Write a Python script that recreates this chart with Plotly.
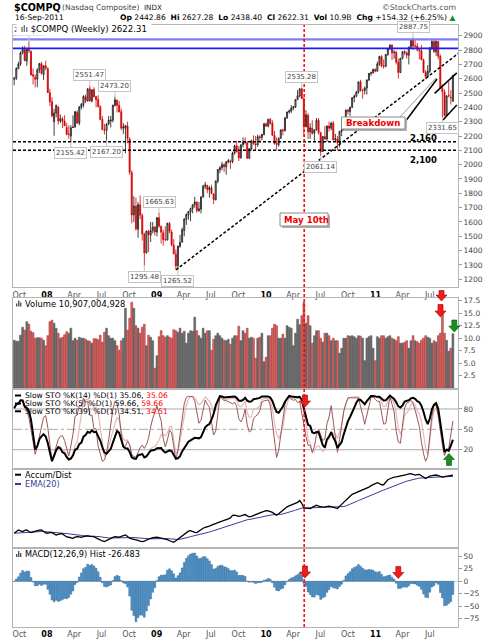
import numpy as np
import pandas as pd
import plotly.graph_objects as go

W, H = 496, 640
FONT = "DejaVu Sans"

# weekly $COMPQ bars, 14-Sep-2007 .. 16-Sep-2011
opens = [
    2596, 2604, 2672, 2702, 2781, 2806, 2724, 2805, 2790, 2628,
    2610, 2597, 2662, 2705, 2630, 2690, 2670, 2503, 2440, 2300,
    2360, 2400, 2305, 2320, 2305, 2260, 2213, 2200, 2260, 2262,
    2365, 2290, 2400, 2420, 2475, 2447, 2530, 2445, 2525, 2475,
    2455, 2405, 2316, 2245, 2240, 2285, 2305, 2310, 2414, 2450,
    2415, 2370, 2255, 2255, 2270, 2180, 1945, 1650, 1710, 1550,
    1720, 1645, 1515, 1385, 1535, 1508, 1540, 1565, 1530, 1630,
    1570, 1525, 1478, 1475, 1590, 1530, 1440, 1375, 1295, 1430,
    1460, 1540, 1620, 1650, 1670, 1695, 1720, 1738, 1680, 1690,
    1775, 1850, 1855, 1825, 1840, 1795, 1755, 1885, 1965, 1980,
    2000, 1985, 2020, 2025, 2020, 2080, 2130, 2090, 2050, 2140,
    2155, 2155, 2045, 2110, 2165, 2145, 2140, 2195, 2190, 2210,
    2285, 2270, 2315, 2290, 2205, 2150, 2140, 2185, 2243, 2238,
    2327, 2368, 2374, 2395, 2402, 2454, 2481, 2530, 2460, 2265,
    2345, 2230, 2255, 2220, 2243, 2310, 2222, 2092, 2196, 2180,
    2270, 2255, 2290, 2173, 2180, 2153, 2233, 2242, 2315, 2381,
    2371, 2401, 2468, 2480, 2507, 2578, 2518, 2518, 2535, 2591,
    2637, 2642, 2665, 2653, 2703, 2755, 2690, 2687, 2769, 2809,
    2834, 2781, 2784, 2715, 2643, 2743, 2789, 2780, 2764, 2820,
    2873, 2828, 2828, 2803, 2796, 2732, 2643, 2616, 2652, 2816,
    2859, 2789, 2859, 2756, 2532, 2508, 2342, 2482, 2470, 2442.86,
]
highs = [
    2613, 2680, 2718, 2790, 2826, 2830, 2811, 2861.51, 2799, 2672,
    2630, 2674, 2710, 2718, 2692, 2725, 2680, 2530, 2470, 2390,
    2420, 2410, 2350, 2335, 2345, 2290, 2275, 2275, 2345, 2375,
    2380, 2410, 2430, 2485, 2490, 2535, 2551.47, 2525, 2540, 2480,
    2485, 2415, 2340, 2285, 2290, 2340, 2340, 2420, 2473.20, 2455,
    2445, 2390, 2290, 2275, 2300, 2190, 1960, 1780, 1770, 1740,
    1785, 1660, 1525, 1540, 1545, 1600, 1600, 1570, 1635, 1665.63,
    1575, 1545, 1570, 1595, 1600, 1545, 1480, 1410, 1435, 1510,
    1560, 1625, 1660, 1675, 1700, 1725, 1775, 1745, 1740, 1780,
    1860, 1880, 1860, 1850, 1860, 1800, 1890, 1970, 1990, 2020,
    2010, 2025, 2040, 2035, 2090, 2140, 2167, 2130, 2140, 2190,
    2190, 2165, 2115, 2175, 2205, 2200, 2210, 2205, 2215, 2290,
    2295, 2320, 2327, 2310, 2235, 2190, 2190, 2245, 2250, 2330,
    2370, 2385, 2415, 2410, 2456, 2520, 2532, 2535.28, 2470, 2380,
    2360, 2290, 2310, 2245, 2325, 2325, 2230, 2200, 2270, 2275,
    2300, 2300, 2305, 2215, 2200, 2235, 2250, 2325, 2385, 2390,
    2405, 2470, 2490, 2515, 2580, 2592, 2530, 2545, 2595, 2640,
    2650, 2670, 2672, 2720, 2760, 2765, 2735, 2770, 2810, 2840,
    2840, 2800, 2795, 2740, 2745, 2790, 2800, 2790, 2825, 2875,
    2887.75, 2870, 2850, 2810, 2835, 2740, 2660, 2695, 2820, 2875,
    2870, 2870, 2860, 2770, 2560, 2525, 2485, 2580, 2520, 2627.28,
]
lows = [
    2555, 2590, 2665, 2690, 2770, 2725, 2690, 2780, 2620, 2560,
    2540, 2540, 2640, 2630, 2590, 2660, 2500, 2410, 2330, 2202,
    2330, 2280, 2290, 2255, 2270, 2205, 2180, 2155.42, 2255, 2260,
    2285, 2275, 2385, 2400, 2430, 2440, 2440, 2435, 2470, 2400,
    2400, 2310, 2240, 2210, 2167.20, 2275, 2260, 2295, 2405, 2365,
    2365, 2240, 2215, 2080, 2150, 1930, 1590, 1600, 1540, 1490,
    1620, 1470, 1295.48, 1380, 1390, 1460, 1520, 1505, 1500, 1560,
    1450, 1435, 1465, 1470, 1520, 1430, 1375, 1270, 1265.52, 1420,
    1455, 1500, 1580, 1615, 1605, 1660, 1700, 1665, 1670, 1660,
    1770, 1830, 1800, 1770, 1795, 1725, 1750, 1870, 1940, 1960,
    1950, 1930, 2010, 1970, 2010, 2070, 2085, 2025, 2040, 2120,
    2140, 2040, 2040, 2100, 2140, 2100, 2125, 2165, 2170, 2205,
    2265, 2260, 2280, 2200, 2140, 2100, 2125, 2180, 2205, 2230,
    2320, 2355, 2360, 2380, 2395, 2450, 2470, 2460, 2195, 2260,
    2180, 2180, 2210, 2160, 2240, 2210, 2061.14, 2090, 2175, 2160,
    2230, 2240, 2170, 2165, 2100, 2120, 2200, 2240, 2300, 2350,
    2340, 2395, 2435, 2470, 2495, 2510, 2460, 2490, 2490, 2585,
    2620, 2635, 2645, 2650, 2690, 2680, 2670, 2680, 2760, 2800,
    2730, 2740, 2700, 2600, 2640, 2735, 2765, 2740, 2700, 2815,
    2800, 2810, 2790, 2735, 2730, 2640, 2600, 2610, 2640, 2800,
    2780, 2760, 2735, 2530, 2331.65, 2336, 2340, 2470, 2420, 2438.40,
]
closes = [
    2602, 2671, 2701, 2780, 2806, 2726, 2804, 2795, 2627, 2618,
    2596, 2661, 2706, 2636, 2691, 2674, 2504, 2439, 2340, 2360,
    2413, 2304, 2321, 2303, 2271, 2212, 2212, 2258, 2261, 2370,
    2290, 2402, 2422, 2476, 2446, 2528, 2444, 2522, 2474, 2454,
    2406, 2316, 2245, 2239, 2282, 2310, 2310, 2414, 2452, 2414,
    2368, 2255, 2261, 2273, 2183, 1947, 1649, 1711, 1552, 1720,
    1647, 1516, 1384, 1536, 1509, 1540, 1564, 1530, 1628, 1571,
    1529, 1477, 1476, 1591, 1534, 1441, 1377, 1293, 1431, 1457,
    1545, 1621, 1652, 1673, 1694, 1719, 1739, 1680, 1692, 1774,
    1849, 1858, 1827, 1838, 1797, 1756, 1886, 1965, 1979, 2000,
    1985, 2020, 2028, 2018, 2080, 2132, 2090, 2048, 2139, 2156,
    2154, 2045, 2112, 2167, 2146, 2138, 2195, 2190, 2211, 2285,
    2269, 2317, 2287, 2205, 2147, 2141, 2183, 2243, 2238, 2327,
    2368, 2374, 2395, 2402, 2454, 2481, 2530, 2461, 2265, 2347,
    2229, 2257, 2219, 2243, 2309, 2223, 2091, 2196, 2179, 2269,
    2255, 2289, 2173, 2180, 2153, 2233, 2242, 2315, 2381, 2371,
    2401, 2468, 2479, 2507, 2578, 2518, 2518, 2535, 2591, 2637,
    2642, 2665, 2653, 2703, 2755, 2689, 2687, 2769, 2809, 2834,
    2781, 2784, 2715, 2643, 2743, 2789, 2780, 2764, 2820, 2873,
    2828, 2828, 2803, 2796, 2732, 2643, 2616, 2652, 2816, 2859,
    2789, 2859, 2756, 2532, 2508, 2342, 2480, 2480, 2467.99, 2622.31,
]
# weekly volume, billions of shares
volumes = [
    9.6, 9.4, 9.4, 10.6, 12.2, 11.6, 13.3, 12.8, 11.4, 11.1,
    10.0, 10.1, 10.1, 10.0, 9.6, 8.5, 10.5, 13.3, 13.6, 13.0,
    12.0, 11.0, 10.0, 10.2, 10.7, 11.3, 11.0, 12.0, 9.5, 10.0,
    9.6, 10.2, 10.0, 10.0, 9.8, 9.5, 9.4, 9.0, 9.9, 9.9,
    9.7, 10.6, 9.2, 11.2, 12.0, 10.5, 10.0, 10.0, 9.5, 8.5,
    7.6, 9.5, 10.0, 16.0, 11.6, 14.0, 17.2, 16.0, 12.5, 12.0,
    11.0, 12.2, 12.8, 8.5, 10.6, 10.2, 9.5, 4.0, 6.5, 10.3,
    11.5, 10.5, 10.2, 10.5, 10.2, 10.0, 11.7, 11.5, 11.2, 12.0,
    11.0, 11.4, 9.0, 11.0, 11.5, 11.4, 14.2, 11.5, 10.5, 10.0,
    12.0, 11.0, 11.5, 11.5, 7.6, 9.8, 10.5, 11.0, 10.5, 10.0,
    9.6, 9.5, 9.8, 8.8, 10.0, 10.5, 10.5, 12.4, 9.5, 11.5,
    11.0, 12.0, 10.0, 10.2, 10.0, 6.0, 10.0, 10.2, 11.0, 5.3,
    6.2, 10.5, 10.5, 12.0, 12.8, 12.5, 10.0, 10.0, 10.8, 10.0,
    12.5, 12.2, 12.0, 8.5, 11.0, 13.8, 12.7, 14.5, 17.2, 13.0,
    14.5, 12.5, 9.0, 10.5, 11.5, 11.5, 10.0, 9.2, 11.0, 11.0,
    10.5, 9.5, 10.0, 9.5, 9.5, 7.0, 8.0, 10.0, 10.0, 10.5,
    10.4, 10.5, 10.3, 10.0, 10.5, 10.4, 10.0, 5.5, 10.0, 10.3,
    10.5, 8.0, 5.5, 10.3, 10.0, 10.5, 10.5, 10.0, 10.3, 10.5,
    10.0, 9.8, 9.5, 10.3, 9.0, 9.0, 9.2, 9.5, 8.0, 9.5,
    10.5, 9.5, 9.3, 9.0, 9.6, 10.0, 10.5, 10.2, 10.0, 9.0,
    9.5, 9.2, 10.5, 11.0, 15.3, 11.0, 9.6, 7.4, 8.0, 10.907004928,
]
# accumulation/distribution line (arbitrary units)
accum_dist = [
    6.7, 8.5, 10.0, 9.0, 8.3, 9.5, 10.0, 8.5, 7.3, 8.0,
    9.0, 9.3, 9.8, 10.0, 8.5, 7.0, 6.7, 7.5, 7.3, 6.2,
    5.0, 5.5, 6.3, 6.0, 4.5, 3.0, 2.7, 2.0, 1.7, 2.8,
    3.3, 3.0, 2.7, 3.3, 3.8, 4.0, 3.5, 3.6, 3.3, 2.0,
    0.8, 0.0, -1.0, -1.7, -0.5, 0.5, 1.5, 2.5, 3.3, 3.0,
    2.7, 3.5, 4.5, 5.0, 3.5, 1.8, 1.2, 0.8, 0.2, -0.5,
    -1.2, -1.7, -1.2, 0.0, 1.0, 1.7, 2.2, 2.5, 2.7, 2.3,
    1.8, 1.7, 1.0, 0.3, -0.8, -1.8, -2.3, -0.8, 0.7, 2.5,
    4.5, 6.0, 7.2, 8.8, 9.3, 8.3, 7.6, 7.3, 9.0, 10.8,
    11.7, 12.5, 13.0, 13.8, 14.8, 15.8, 16.8, 17.5, 18.0, 18.7,
    19.3, 20.0, 21.0, 22.0, 24.5, 24.8, 24.0, 23.5, 24.0, 24.8,
    25.3, 24.0, 23.0, 23.5, 24.5, 25.3, 26.2, 27.0, 27.8, 28.5,
    29.3, 29.0, 28.3, 27.5, 26.0, 24.7, 26.2, 28.0, 29.5, 31.0,
    33.0, 34.0, 34.8, 35.5, 36.3, 37.5, 39.3, 36.5, 32.0, 31.8,
    31.5, 31.3, 32.5, 33.8, 34.7, 33.8, 33.0, 32.7, 33.0, 33.5,
    33.7, 33.2, 32.5, 31.8, 31.3, 33.5, 35.3, 37.5, 39.5, 41.5,
    43.5, 45.5, 46.3, 47.2, 48.2, 48.7, 49.5, 50.5, 51.3, 52.7,
    54.2, 55.3, 56.0, 57.0, 56.2, 55.0, 55.0, 57.5, 60.0, 61.0,
    62.0, 62.5, 62.8, 63.2, 63.5, 63.8, 64.5, 65.2, 65.8, 66.0,
    65.3, 64.7, 65.0, 65.3, 64.0, 62.5, 61.3, 62.5, 63.7, 64.0,
    64.3, 64.7, 64.0, 63.0, 62.7, 63.2, 63.7, 64.0, 64.2, 64.7,
]

tick_dates = ["2007-10-01", "2008-01-01", "2008-04-01", "2008-07-01", "2008-10-01",
              "2009-01-01", "2009-04-01", "2009-07-01", "2009-10-01", "2010-01-01",
              "2010-04-01", "2010-07-01", "2010-10-01", "2011-01-01", "2011-04-01",
              "2011-07-01"]
tick_text = ["Oct", "08", "Apr", "Jul", "Oct", "09", "Apr", "Jul", "Oct", "10",
             "Apr", "Jul", "Oct", "11", "Apr", "Jul"]
peak_labels = [2861.51, 2551.47, 2473.20, 1665.63, 2535.28, 2887.75]
trough_labels = [2155.42, 2167.20, 1295.48, 1265.52, 2061.14, 2331.65]
resistance = [2875, 2812]
support = [2160, 2100]

dates = pd.date_range("2007-09-14", periods=len(closes), freq="W-FRI")
df = pd.DataFrame({"open": opens, "high": highs, "low": lows, "close": closes,
                   "vol": volumes, "ad": accum_dist}, index=dates)


def slow_k(n):
    hh = df["high"].rolling(n, min_periods=1).max()
    ll = df["low"].rolling(n, min_periods=1).min()
    fast = (df["close"] - ll) / (hh - ll) * 100
    return fast.rolling(3, min_periods=1).mean()


macd = df["close"].ewm(span=12, adjust=False).mean() - df["close"].ewm(span=26, adjust=False).mean()
hist = macd - macd.ewm(span=9, adjust=False).mean()
ad_ema = df["ad"].ewm(span=20, adjust=False).mean()
prev = df["close"].shift(1).fillna(df["open"])
up = df["close"] >= prev


def px(x):
    return x / W


def py(y):
    return 1 - y / H


XDOM = [px(13), px(458)]
XRANGE = ["2007-09-10", "2011-10-03"]
ttext = [("<b style='color:#000'>%s</b>" % t if t.isdigit() else t) for t in tick_text]

fig = go.Figure()
fig.add_trace(go.Candlestick(
    x=dates, open=df["open"], high=df["high"], low=df["low"], close=df["close"],
    xaxis="x", yaxis="y", whiskerwidth=0,
    increasing=dict(line=dict(color="#111111", width=0.8), fillcolor="#bdbdbd"),
    decreasing=dict(line=dict(color="#d40000", width=0.8), fillcolor="#d40000")))
fig.add_trace(go.Bar(
    x=dates, y=df["vol"], xaxis="x2", yaxis="y2",
    marker=dict(color=np.where(up, "#6e6e6e", "#cd6a6a"),
                line=dict(color=np.where(up, "#4a4a4a", "#b21e1e"), width=0.5))))
fig.add_trace(go.Scatter(x=dates, y=slow_k(14), xaxis="x3", yaxis="y3", mode="lines",
                         line=dict(color="#e3b9b9", width=1.2)))
fig.add_trace(go.Scatter(x=dates, y=slow_k(5), xaxis="x3", yaxis="y3", mode="lines",
                         line=dict(color="#9c5757", width=1)))
fig.add_trace(go.Scatter(x=dates, y=slow_k(39), xaxis="x3", yaxis="y3", mode="lines",
                         line=dict(color="#000000", width=2)))
fig.add_trace(go.Scatter(x=dates, y=ad_ema, xaxis="x4", yaxis="y4", mode="lines",
                         line=dict(color="#3a3a9a", width=1)))
fig.add_trace(go.Scatter(x=dates, y=df["ad"], xaxis="x4", yaxis="y4", mode="lines",
                         line=dict(color="#000000", width=1.3)))
fig.add_trace(go.Bar(x=dates, y=hist, xaxis="x5", yaxis="y5",
                     marker=dict(color="#4b93cc", line=dict(color="#2a5d8a", width=0.4))))

frame = dict(showline=True, mirror=True, linecolor="#b4b4b4", linewidth=1,
             showgrid=False, zeroline=False)
xcommon = dict(frame, domain=XDOM, range=XRANGE, tickvals=tick_dates, ticktext=ttext,
               tickfont=dict(family=FONT, size=8, color="#555"), ticks="")
ycommon = dict(frame, side="right", ticks="outside", ticklen=3, tickcolor="#999",
               tickfont=dict(family=FONT, size=7.5, color="#444"))

fig.update_layout(
    width=W, height=H, margin=dict(l=0, r=0, t=0, b=0),
    paper_bgcolor="white", plot_bgcolor="white", showlegend=False, bargap=0.12,
    xaxis=dict(xcommon, anchor="y", rangeslider=dict(visible=False)),
    xaxis2=dict(xcommon, anchor="y2", matches="x", showticklabels=False),
    xaxis3=dict(xcommon, anchor="y3", matches="x", showticklabels=False),
    xaxis4=dict(xcommon, anchor="y4", matches="x", showticklabels=False),
    xaxis5=dict(xcommon, anchor="y5", matches="x"),
    yaxis=dict(ycommon, domain=[py(287), py(25)], range=[1146, 2975],
               tickvals=list(range(1200, 3000, 100))),
    yaxis2=dict(ycommon, domain=[py(389), py(297.5)], range=[-0.16, 18.14],
                tickvals=[2.5, 5, 7.5, 10, 12.5, 15, 17.5], tickformat=".1f", ticksuffix="B"),
    yaxis3=dict(ycommon, domain=[py(469), py(389)], range=[-8.4, 109.4], tickvals=[20, 50, 80]),
    yaxis4=dict(ycommon, domain=[py(548.3), py(469)], range=[-8.3, 70.7], showticklabels=False,
                ticks=""),
    yaxis5=dict(ycommon, domain=[py(626.7), py(548.3)], range=[-91, 66],
                tickvals=[-75, -50, -25, 0, 25, 50], zeroline=True, zerolinecolor="#cfcfcf",
                zerolinewidth=1),
)

shapes = []
for lvl, col, wid in zip(resistance, ["#7d7df5", "#1a1aff"], [2.2, 1.6]):
    shapes.append(dict(type="line", xref="paper", yref="y", x0=XDOM[0], x1=XDOM[1],
                       y0=lvl, y1=lvl, line=dict(color=col, width=wid)))
for lvl in support:
    shapes.append(dict(type="line", xref="paper", yref="y", x0=XDOM[0], x1=XDOM[1],
                       y0=lvl, y1=lvl, line=dict(color="#000", width=1.5, dash="3px,2px")))
# trend line off the 2009 low and the 2011 channel
shapes.append(dict(type="line", xref="x", yref="y", x0="2009-03-06", y0=1265, x1="2011-10-03",
                   y1=2775, line=dict(color="#000", width=1.5, dash="3px,2px")))
shapes.append(dict(type="line", xref="x", yref="y", x0="2011-07-17", y0=2498, x1="2011-09-29",
                   y1=2641, line=dict(color="#000", width=1.5)))
shapes.append(dict(type="line", xref="x", yref="y", x0="2011-08-14", y0=2312, x1="2011-09-29",
                   y1=2417, line=dict(color="#000", width=1.5)))
# May 10th marker through all panels
shapes.append(dict(type="line", xref="x", yref="paper", x0="2010-05-08", x1="2010-05-08",
                   y0=py(627), y1=py(25), line=dict(color="#ff0000", width=1.5, dash="3px,2px")))
# STO reference lines
for lvl, dash in [(80, "solid"), (20, "solid"), (50, "dashdot")]:
    shapes.append(dict(type="line", xref="paper", yref="y3", x0=XDOM[0], x1=XDOM[1], y0=lvl,
                       y1=lvl, line=dict(color="#aaaaaa", width=1, dash=dash), layer="below"))

# breakdown callout tail
shapes.append(dict(type="line", xref="paper", yref="paper", x0=px(400), y0=py(117),
                   x1=px(436), y1=py(78), line=dict(color="#999", width=1)))
shapes.append(dict(type="line", xref="paper", yref="paper", x0=px(405), y0=py(122),
                   x1=px(437), y1=py(79), line=dict(color="#000", width=1.5)))
# callout boxes with a drop shadow
for x0, y0, x1, y1 in [(341.5, 117, 405, 129), (280, 213, 328, 226)]:
    shapes.append(dict(type="rect", xref="paper", yref="paper", x0=px(x0 + 2), y0=py(y0 + 2),
                       x1=px(x1 + 2), y1=py(y1 + 2), fillcolor="#b0b0b0", line=dict(width=0)))
    shapes.append(dict(type="rect", xref="paper", yref="paper", x0=px(x0), y0=py(y0),
                       x1=px(x1), y1=py(y1), fillcolor="white", line=dict(color="#8a8a8a", width=1)))


def block_arrow(cx, top, bot, color, edge, pointing_up=False):
    hw, sw, hh = 5.5, 2.5, 6
    if pointing_up:
        pts = [(cx, top), (cx + hw, top + hh), (cx + sw, top + hh), (cx + sw, bot),
               (cx - sw, bot), (cx - sw, top + hh), (cx - hw, top + hh)]
    else:
        pts = [(cx - sw, top), (cx + sw, top), (cx + sw, bot - hh), (cx + hw, bot - hh),
               (cx, bot), (cx - hw, bot - hh), (cx - sw, bot - hh)]
    path = "M " + " L ".join("%.5f,%.5f" % (px(a), py(b)) for a, b in pts) + " Z"
    return dict(type="path", xref="paper", yref="paper", path=path, fillcolor=color,
                line=dict(color=edge, width=0.6))


RED, RED_E, GRN, GRN_E = "#ee1c1c", "#a00000", "#1c8c1c", "#0a5a0a"
shapes += [
    block_arrow(441.5, 290.5, 301, RED, RED_E),
    block_arrow(440.5, 304.5, 317, RED, RED_E),
    block_arrow(454.3, 320, 332, GRN, GRN_E),
    block_arrow(305, 395, 407, RED, RED_E),
    block_arrow(449, 453.5, 465.5, GRN, GRN_E, pointing_up=True),
    block_arrow(305, 566, 578, RED, RED_E),
    block_arrow(398.3, 566.5, 578.5, RED, RED_E),
]


def icon(x, y):
    out = []
    for dx, h in [(0, 3), (2, 6), (4, 4)]:
        out.append(dict(type="rect", xref="paper", yref="paper", x0=px(x + dx), x1=px(x + dx + 1.4),
                        y0=py(y + 3), y1=py(y + 3 - h), fillcolor="#555", line=dict(width=0)))
    return out


shapes += icon(16, 303.5) + icon(16, 554)
# legend line markers
for y, col in [(395.5, "#000"), (403.5, "#000"), (411.3, "#000"), (474.7, "#000"), (484, "#3a3a9a")]:
    shapes.append(dict(type="line", xref="paper", yref="paper", x0=px(15), x1=px(21), y0=py(y),
                       y1=py(y), line=dict(color=col, width=2)))
fig.update_layout(shapes=shapes)

ann = []


def text(x, y, s, size=8, color="#000", anchor="left", bg=None):
    ann.append(dict(x=px(x), y=py(y), xref="paper", yref="paper", text=s, showarrow=False,
                    xanchor=anchor, yanchor="middle", bgcolor=bg,
                    font=dict(family=FONT, size=size, color=color)))


# peak / trough value tags
for val in peak_labels + trough_labels:
    is_peak = val in peak_labels
    i = highs.index(val) if is_peak else lows.index(val)
    ann.append(dict(x=dates[i], y=val, xref="x", yref="y", text="%.2f" % val,
                    showarrow=True, arrowhead=0, arrowwidth=1, arrowcolor="#c4c4c4", ax=0,
                    ay=-11 if is_peak else 11, bgcolor="white", bordercolor="#c4c4c4",
                    borderwidth=1, borderpad=1, font=dict(family=FONT, size=7, color="#444")))

last = len(closes) - 1
chg = closes[last] - closes[last - 1]
text(12, 7, "<b>$COMPQ</b>", size=9.6)
text(60, 7.5, "(Nasdaq Composite)", size=7.6, color="#444")
text(142, 7.5, "INDX", size=7.2, color="#222")
text(458, 7, "©StockCharts.com", size=7.8, color="#555", anchor="right")
text(13, 18, "16-Sep-2011", size=7.6)
text(457, 18, "<b>Op</b> %.2f  <b>Hi</b> %.2f  <b>Lo</b> %.2f  <b>Cl</b> %.2f  <b>Vol</b> %.1fB  "
     "<b>Chg</b> %+.2f (%+.2f%%) <span style='color:#1a8a1a'>▲</span>"
     % (opens[last], highs[last], lows[last], closes[last], volumes[last], chg,
        chg / closes[last - 1] * 100), size=7.6, anchor="right")
text(16, 29, " ılı $COMPQ (Weekly) %.2f " % closes[last], size=8.6, bg="white")
text(23, 303.5, "Volume {:,}".format(int(round(volumes[last] * 1e9))), size=8.4)
text(23, 395.5, "Slow STO %K(14) %D(1) 35.06, <span style='color:#ff0000'>35.06</span>", size=7.6)
text(23, 403.5, "Slow STO %K(5) %D(1) 59.66, <span style='color:#ff0000'>59.66</span>", size=7.6)
text(23, 411.3, "Slow STO %K(39) %D(1) 34.51, <span style='color:#ff0000'>34.51</span>", size=7.6)
text(23, 474.7, "Accum/Dist", size=8.2)
text(23, 484, "EMA(20)", size=8.2, color="#3a3a9a")
text(23, 554, "MACD(12,26,9) Hist -26.483", size=8.2)
text(423, 138.3, "<b>2,160</b>", size=8.5, anchor="center")
text(423, 160, "<b>2,100</b>", size=8.5, anchor="center")
text(343.5, 123, "<b>Breakdown</b>", size=8.6, color="#ee0000")
text(282, 219.5, "<b>May 10th</b>", size=8.6, color="#ee0000")
fig.update_layout(annotations=ann)

fig.write_html("out.html", config={"displayModeBar": False},
               post_script="document.body.style.margin='0';")
